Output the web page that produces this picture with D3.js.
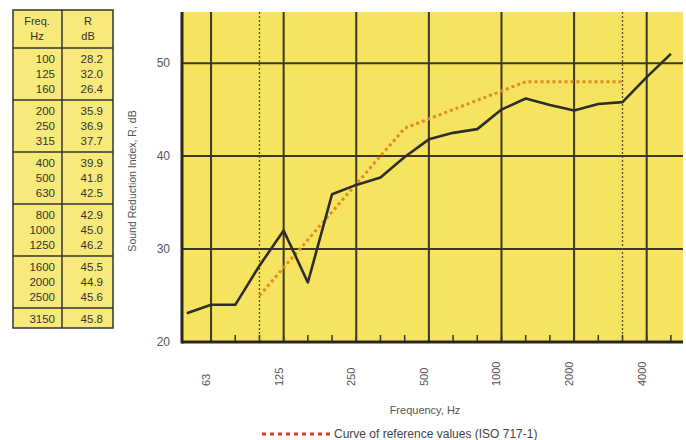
<!DOCTYPE html>
<html>
<head>
<meta charset="utf-8">
<script src="https://cdn.jsdelivr.net/npm/d3@7"></script>
<style>
  body { margin: 0; background: #fff; }
  text { font-family: "Liberation Sans", "DejaVu Sans", sans-serif; }
</style>
</head>
<body>
<div id="canvas"></div>
<script>
// third-octave bands drawn on the x axis
const bands = [50, 63, 80, 100, 125, 160, 200, 250, 315, 400, 500, 630, 800, 1000, 1250, 1600, 2000, 2500, 3150, 4000, 5000];
const octaveLabels = ["63", "125", "250", "500", "1000", "2000", "4000"];

// measured sound reduction index R, dB
const measured = [23.1, 24.0, 24.0, 28.2, 32.0, 26.4, 35.9, 36.9, 37.7, 39.9, 41.8, 42.5, 42.9, 45.0, 46.2, 45.5, 44.9, 45.6, 45.8, 48.5, 51.0];

// ISO 717-1 reference curve, 100..3150 Hz (shifted)
const refBands = [100, 125, 160, 200, 250, 315, 400, 500, 630, 800, 1000, 1250, 1600, 2000, 2500, 3150];
const refValues = [25, 28, 31, 34, 37, 40, 43, 44, 45, 46, 47, 48, 48, 48, 48, 48];

// table on the left
const tableFreq = ["100", "125", "160", "200", "250", "315", "400", "500", "630", "800", "1000", "1250", "1600", "2000", "2500", "3150"];
const tableR = ["28.2", "32.0", "26.4", "35.9", "36.9", "37.7", "39.9", "41.8", "42.5", "42.9", "45.0", "46.2", "45.5", "44.9", "45.6", "45.8"];

const yTicks = [20, 30, 40, 50];

const width = 686;
const height = 440;
const plot = { left: 182, right: 683, top: 12, bottom: 342 };

const svg = d3.select("#canvas").append("svg")
  .attr("width", width)
  .attr("height", height);

const x = d3.scaleLinear()
  .domain([-0.2, 20.5])
  .range([plot.left, plot.right]);

const y = d3.scaleLinear()
  .domain([20, 55.5])
  .range([plot.bottom, plot.top]);

const bx = f => x(bands.indexOf(f));

const gridColor = "#3b3720";

// plot background
svg.append("rect")
  .attr("x", plot.left).attr("y", plot.top)
  .attr("width", plot.right - plot.left).attr("height", plot.bottom - plot.top)
  .attr("fill", "#f6e460");

// horizontal grid
svg.append("g").selectAll("line").data(yTicks.slice(1)).enter().append("line")
  .attr("x1", plot.left).attr("x2", plot.right)
  .attr("y1", d => y(d)).attr("y2", d => y(d))
  .attr("stroke", gridColor).attr("stroke-width", 2);

// vertical grid at octave bands
svg.append("g").selectAll("line").data(octaveLabels).enter().append("line")
  .attr("x1", d => bx(+d)).attr("x2", d => bx(+d))
  .attr("y1", plot.top).attr("y2", plot.bottom)
  .attr("stroke", gridColor).attr("stroke-width", 2);

// dashed limits of the evaluation range
svg.append("g").selectAll("line").data([100, 3150]).enter().append("line")
  .attr("x1", d => bx(d)).attr("x2", d => bx(d))
  .attr("y1", plot.top).attr("y2", plot.bottom)
  .attr("stroke", "#5a5020").attr("stroke-width", 1.3)
  .attr("stroke-dasharray", "2,2");

// minor ticks along bottom
svg.append("g").selectAll("line").data(bands.slice(1)).enter().append("line")
  .attr("x1", d => bx(d)).attr("x2", d => bx(d))
  .attr("y1", plot.bottom).attr("y2", plot.bottom - 7)
  .attr("stroke", gridColor).attr("stroke-width", 1.5);

// axes lines
svg.append("line")
  .attr("x1", plot.left).attr("x2", plot.left)
  .attr("y1", plot.top).attr("y2", plot.bottom + 1.5)
  .attr("stroke", "#2a2818").attr("stroke-width", 3);
svg.append("line")
  .attr("x1", plot.left).attr("x2", plot.right)
  .attr("y1", plot.bottom).attr("y2", plot.bottom)
  .attr("stroke", "#2a2818").attr("stroke-width", 3);

// reference curve
const refLine = d3.line()
  .x((d, i) => bx(refBands[i]))
  .y(d => y(d));
svg.append("path")
  .datum(refValues)
  .attr("d", refLine)
  .attr("fill", "none")
  .attr("stroke", "#e58a1f")
  .attr("stroke-width", 3)
  .attr("stroke-dasharray", "3,3");

// measured curve
const line = d3.line()
  .x((d, i) => x(i))
  .y(d => y(d));
svg.append("path")
  .datum(measured)
  .attr("d", line)
  .attr("fill", "none")
  .attr("stroke", "#2d2d2a")
  .attr("stroke-width", 2.6)
  .attr("stroke-linejoin", "round");

// y labels
svg.append("g").selectAll("text").data(yTicks).enter().append("text")
  .attr("x", 170).attr("y", d => y(d))
  .attr("dy", "0.35em")
  .attr("text-anchor", "end")
  .attr("font-size", 12)
  .attr("fill", "#555")
  .text(d => d);

svg.append("text")
  .attr("transform", "translate(136,181) rotate(-90)")
  .attr("text-anchor", "middle")
  .attr("font-size", 10.5)
  .attr("fill", "#555")
  .text("Sound Reduction Index, R, dB");

// x labels
svg.append("g").selectAll("text").data(octaveLabels).enter().append("text")
  .attr("transform", d => `translate(${bx(+d) - 5},386) rotate(-90)`)
  .attr("dy", "0.35em")
  .attr("text-anchor", "start")
  .attr("font-size", 11)
  .attr("fill", "#555")
  .text(d => d);

svg.append("text")
  .attr("x", 425).attr("y", 414)
  .attr("text-anchor", "middle")
  .attr("font-size", 11)
  .attr("fill", "#555")
  .text("Frequency, Hz");

// legend
svg.append("line")
  .attr("x1", 262).attr("x2", 330)
  .attr("y1", 434).attr("y2", 434)
  .attr("stroke", "#e0352a")
  .attr("stroke-width", 3)
  .attr("stroke-dasharray", "4,4");
svg.append("text")
  .attr("x", 334).attr("y", 438)
  .attr("font-size", 12)
  .attr("fill", "#444")
  .text("Curve of reference values (ISO 717-1)");

// table
const tb = { left: 13, mid: 62, right: 113, top: 10, head: 48, group: 52 };
const nGroups = Math.ceil(tableFreq.length / 3);
const tBottom = tb.head + (nGroups - 1) * tb.group + 20;
const t = svg.append("g");

t.append("rect")
  .attr("x", tb.left).attr("y", tb.top)
  .attr("width", tb.right - tb.left).attr("height", tBottom - tb.top)
  .attr("fill", "#f7e97a")
  .attr("stroke", "#333").attr("stroke-width", 1.5);
t.append("line")
  .attr("x1", tb.mid).attr("x2", tb.mid)
  .attr("y1", tb.top).attr("y2", tBottom)
  .attr("stroke", "#333").attr("stroke-width", 1.5);

const sepY = d3.range(nGroups).map(i => tb.head + i * tb.group);
t.selectAll(".sep").data(sepY).enter().append("line")
  .attr("x1", tb.left).attr("x2", tb.right)
  .attr("y1", d => d).attr("y2", d => d)
  .attr("stroke", "#333").attr("stroke-width", 1.5);

t.append("text").attr("x", 37).attr("y", 25).attr("text-anchor", "middle")
  .attr("font-size", 11).attr("fill", "#333").text("Freq.");
t.append("text").attr("x", 37).attr("y", 40).attr("text-anchor", "middle")
  .attr("font-size", 11).attr("fill", "#333").text("Hz");
t.append("text").attr("x", 88).attr("y", 25).attr("text-anchor", "middle")
  .attr("font-size", 11).attr("fill", "#333").text("R");
t.append("text").attr("x", 88).attr("y", 40).attr("text-anchor", "middle")
  .attr("font-size", 11).attr("fill", "#333").text("dB");

const rowY = i => tb.head + Math.floor(i / 3) * tb.group + 11 + (i % 3) * 15;

t.selectAll(".f").data(tableFreq).enter().append("text")
  .attr("x", 55).attr("y", (d, i) => rowY(i))
  .attr("dy", "0.35em")
  .attr("text-anchor", "end")
  .attr("font-size", 11.5).attr("fill", "#333")
  .text(d => d);
t.selectAll(".r").data(tableR).enter().append("text")
  .attr("x", 103).attr("y", (d, i) => rowY(i))
  .attr("dy", "0.35em")
  .attr("text-anchor", "end")
  .attr("font-size", 11.5).attr("fill", "#333")
  .text(d => d);
</script>
</body>
</html>
